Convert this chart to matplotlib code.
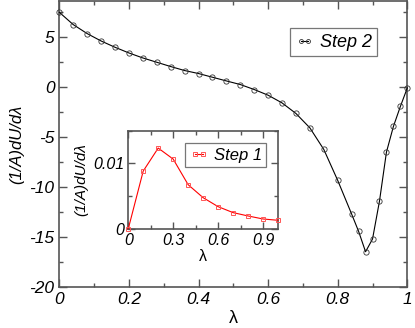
import matplotlib
matplotlib.use("Agg")
import matplotlib.pyplot as plt
from matplotlib.ticker import MultipleLocator

plt.rcParams['font.family'] = ['Liberation Sans', 'DejaVu Sans']
plt.rcParams['font.style'] = 'italic'
plt.rcParams['axes.unicode_minus'] = False

# Step 2 (main)
lam2 = [0.00, 0.04, 0.08, 0.12, 0.16, 0.20, 0.24, 0.28, 0.32, 0.36, 0.40, 0.44,
        0.48, 0.52, 0.56, 0.60, 0.64, 0.68, 0.72, 0.76, 0.80, 0.84, 0.86, 0.88,
        0.90, 0.92, 0.94, 0.96, 0.98, 1.00]
dudl2 = [7.50, 6.27, 5.37, 4.63, 4.00, 3.43, 2.93, 2.50, 2.07, 1.67, 1.37, 1.00,
         0.63, 0.27, -0.23, -0.80, -1.57, -2.63, -4.07, -6.23, -9.33, -12.70, -14.43, -16.47,
         -15.20, -11.40, -6.50, -3.93, -1.93, -0.07]

# Step 1 (inset)
lam1 = [0.0, 0.1, 0.2, 0.3, 0.4, 0.5, 0.6, 0.7, 0.8, 0.9, 1.0]
dudl1 = [0.0, 0.00883, 0.01234, 0.01066, 0.00675, 0.00477, 0.00340, 0.00249,
         0.00198, 0.00152, 0.00132]

main_xticks = [0, 0.2, 0.4, 0.6, 0.8, 1]
main_xticklabels = ['0', '0.2', '0.4', '0.6', '0.8', '1']
main_yticks = [-20, -15, -10, -5, 0, 5]
main_yticklabels = ['-20', '-15', '-10', '-5', '0', '5']
inset_xticks = [0, 0.3, 0.6, 0.9]
inset_xticklabels = ['0', '0.3', '0.6', '0.9']
inset_yticks = [0, 0.01]
inset_yticklabels = ['0', '0.01']

spine_col = '#555555'
fig = plt.figure(figsize=(4.15, 3.28), dpi=100)
ax = fig.add_axes([0.1429, 0.125, 0.8386, 0.871])
ax.plot(lam2, dudl2, color='black', lw=0.8, marker='o', ms=3.8, mfc='none',
        mec='#333333', mew=0.6, label='Step 2', clip_on=False, zorder=3)
ax.set_xlim(0, 1)
ax.set_ylim(-20, 8.6)
ax.set_xticks(main_xticks)
ax.set_xticklabels(main_xticklabels)
ax.set_yticks(main_yticks)
ax.set_yticklabels(main_yticklabels)
ax.xaxis.set_minor_locator(MultipleLocator(0.1))
ax.yaxis.set_minor_locator(MultipleLocator(2.5))
ax.tick_params(which='both', direction='in', top=True, right=True, color=spine_col,
               width=1.0, labelsize=12.5)
ax.tick_params(which='major', length=6)
ax.tick_params(which='minor', length=3)
for s in ax.spines.values():
    s.set_color(spine_col)
    s.set_linewidth(1.2)
ax.set_xlabel('λ', fontsize=13, style='normal', labelpad=2)
ax.set_ylabel('(1/A)dU/dλ', fontsize=12, style='italic', labelpad=4)
leg = ax.legend(loc='upper right', bbox_to_anchor=(0.913, 0.905), numpoints=2,
                handlelength=1.0, fontsize=13, frameon=True, fancybox=False,
                borderpad=0.3, handletextpad=0.35, markerscale=0.75, borderaxespad=0)
leg.get_frame().set_edgecolor('#555555')
leg.get_frame().set_linewidth(0.9)

# inset
ax2 = fig.add_axes([0.309, 0.302, 0.361, 0.2997])
ax2.plot(lam1, dudl1, color='red', lw=0.8, marker='s', ms=3.4, mfc='none',
         mec='#ff5555', mew=0.7, label='Step 1', clip_on=False, zorder=3)
ax2.set_xlim(0, 1)
ax2.set_ylim(0, 0.015)
ax2.set_xticks(inset_xticks)
ax2.set_xticklabels(inset_xticklabels)
ax2.set_yticks(inset_yticks)
ax2.set_yticklabels(inset_yticklabels)
ax2.xaxis.set_minor_locator(MultipleLocator(0.15))
ax2.yaxis.set_minor_locator(MultipleLocator(0.005))
ax2.tick_params(which='both', direction='in', top=True, right=True, color=spine_col,
                width=1.0, labelsize=11.5, pad=3)
ax2.tick_params(which='major', length=5)
ax2.tick_params(which='minor', length=3)
for s in ax2.spines.values():
    s.set_color(spine_col)
    s.set_linewidth(1.2)
ax2.set_xlabel('λ', fontsize=11.5, style='normal', labelpad=1)
ax2.set_ylabel('(1/A)dU/dλ', fontsize=11, style='italic', labelpad=3)
leg2 = ax2.legend(loc='upper right', bbox_to_anchor=(0.92, 0.87), numpoints=2,
                  handlelength=1.1, fontsize=12, frameon=True, fancybox=False,
                  borderpad=0.25, handletextpad=0.35, markerscale=1.0, borderaxespad=0)
leg2.get_frame().set_edgecolor('#555555')
leg2.get_frame().set_linewidth(0.9)

fig.savefig('out.png', dpi=100)
